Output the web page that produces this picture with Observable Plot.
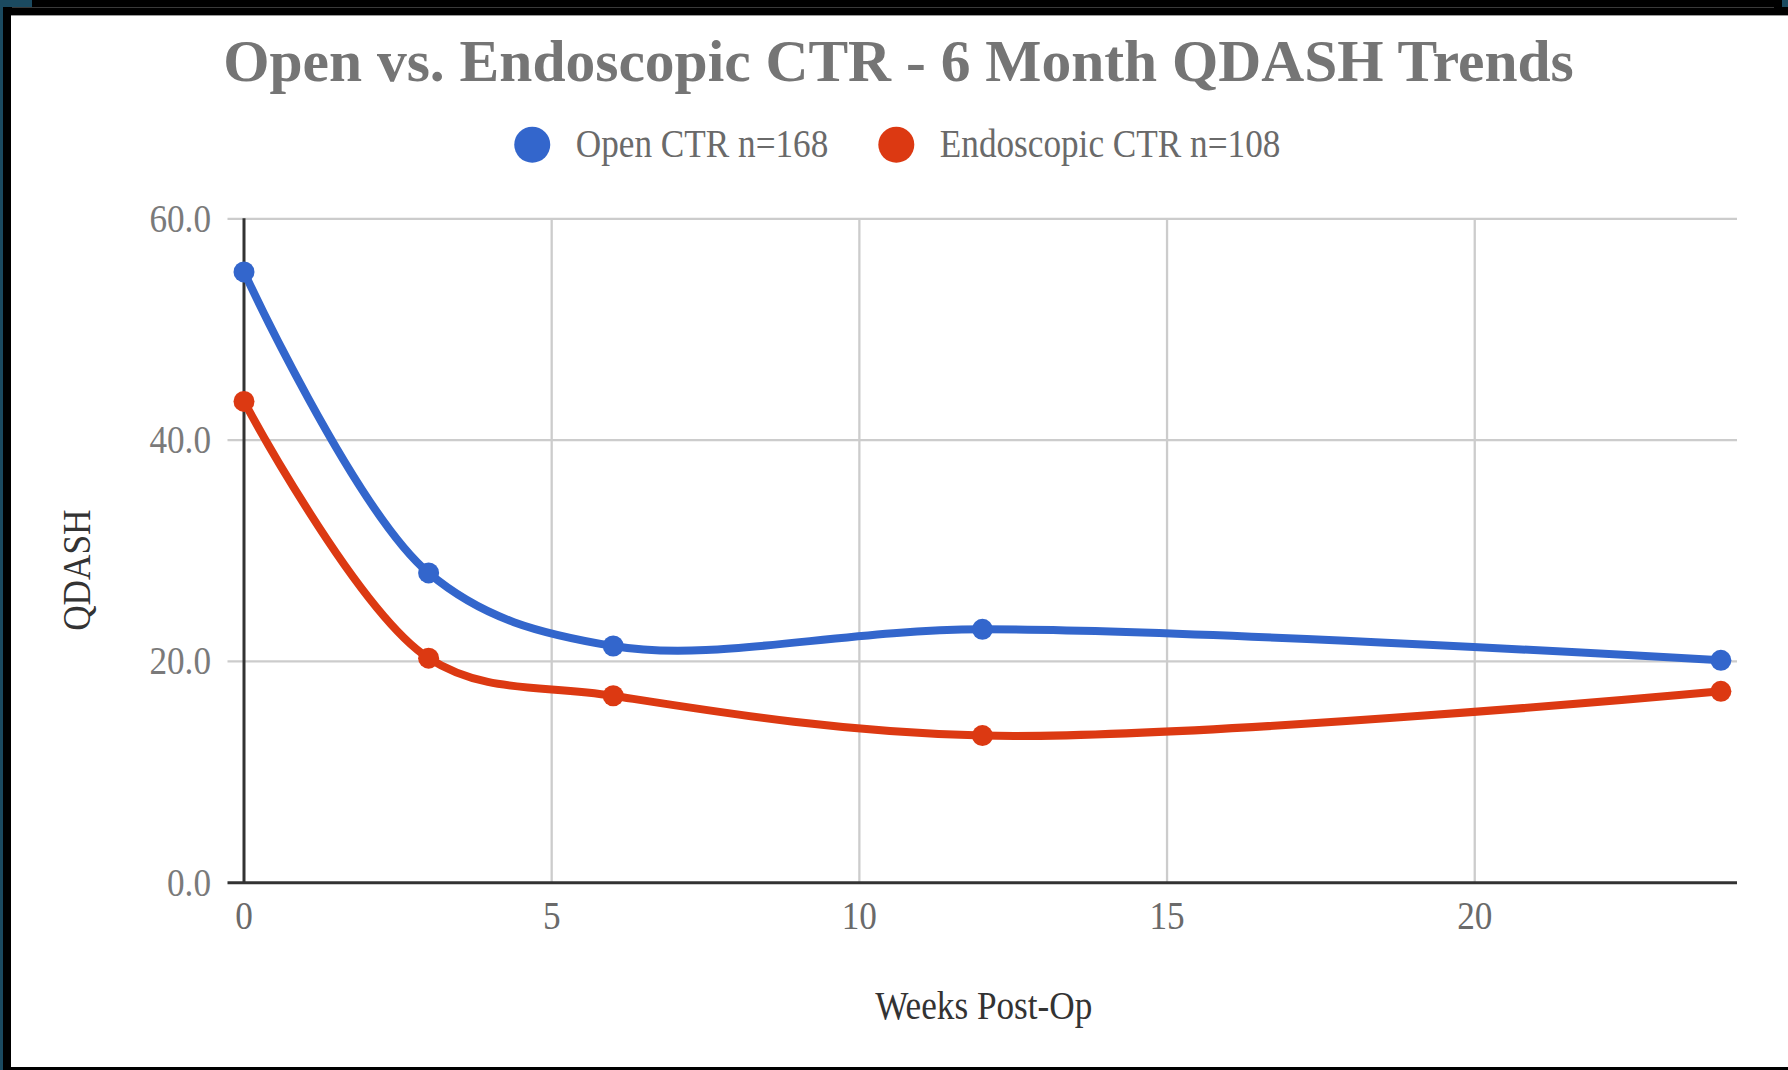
<!DOCTYPE html>
<html>
<head>
<meta charset="utf-8">
<script src="https://cdn.jsdelivr.net/npm/d3@7"></script>
<script src="https://cdn.jsdelivr.net/npm/@observablehq/plot@0.6"></script>
<style>
  html, body { margin: 0; padding: 0; background: #000; }
  #page { position: relative; width: 1788px; height: 1070px; overflow: hidden; background: #000;
          font-family: "Liberation Serif", "Times New Roman", serif; }
  .abs { position: absolute; }
  #tealLeft { left: 0; top: 0; width: 3px; height: 1070px; background: #1b4a60; }
  #tealTop { left: 0; top: 0; width: 32px; height: 7px; background: #1b4a60; }
  #tealTopRight { left: 1782px; top: 0; width: 6px; height: 7px; background: #1b4a60; }
  #topLine { left: 12px; top: 7px; width: 1762px; height: 1px; background: #3a3a3a; }
  #panel { left: 11px; top: 15px; width: 1777px; height: 1052px; background: #fff; border-top: 1px solid #9a9a9a; box-sizing: border-box; }
  #chart { left: 0; top: 0; }
  #overlay { left: 0; top: 0; }
</style>
</head>
<body>
<div id="page">
  <div id="tealLeft" class="abs"></div>
  <div id="tealTop" class="abs"></div>
  <div id="tealTopRight" class="abs"></div>
  <div id="topLine" class="abs"></div>
  <div id="panel" class="abs"></div>
  <div id="chart" class="abs"></div>
  <svg id="overlay" class="abs" width="1788" height="200"></svg>
</div>
<script>
// ---- data ----
const weeks = [0, 3, 6, 12, 24];
const openCTR = [55.2, 28.0, 21.4, 22.9, 20.1];
const endoCTR = [43.5, 20.3, 16.9, 13.3, 17.3];
const seriesNames = ["Open CTR n=168", "Endoscopic CTR n=108"];
const seriesColors = ["#3366cc", "#dc3912"];
const xTicks = [0, 5, 10, 15, 20];
const yTicks = [0, 20, 40, 60];
const yGrid = [20, 40, 60];
const xGrid = [5, 10, 15, 20];
const titleText = "Open vs. Endoscopic CTR - 6 Month QDASH Trends";
const xTitle = "Weeks Post-Op";
const yTitle = "QDASH";

const rows = [];
weeks.forEach((w, i) => {
  rows.push({ week: w, value: openCTR[i], series: seriesNames[0] });
  rows.push({ week: w, value: endoCTR[i], series: seriesNames[1] });
});

const FONT = "Liberation Serif";
const SQ = 0.88;

function squeeze(root, k) {
  root.querySelectorAll("text").forEach(t => {
    if (t.getAttribute("data-nosq")) return;
    const L = t.getComputedTextLength();
    if (L > 0) {
      t.setAttribute("textLength", (L * k).toFixed(2));
      t.setAttribute("lengthAdjust", "spacingAndGlyphs");
    }
  });
}

const chart = Plot.plot({
  width: 1788,
  height: 1070,
  marginLeft: 243.5,
  marginRight: 51,
  marginTop: 218.3,
  marginBottom: 187.7,
  style: { background: "transparent", fontFamily: FONT, overflow: "visible" },
  x: { domain: [0, 24.27] },
  y: { domain: [0, 60] },
  color: { domain: seriesNames, range: seriesColors },
  marks: [
    Plot.ruleX(xGrid, { stroke: "#cccccc", strokeWidth: 2.3 }),
    Plot.ruleY(yGrid, { stroke: "#cccccc", strokeWidth: 2.3, insetLeft: -16 }),
    Plot.ruleX([0], { stroke: "#333333", strokeWidth: 3 }),
    Plot.ruleY([0], { stroke: "#333333", strokeWidth: 3, insetLeft: -16 }),
    Plot.line(rows, { x: "week", y: "value", z: "series", stroke: "series", strokeWidth: 8, curve: "catmull-rom" }),
    Plot.dot(rows, { x: "week", y: "value", fill: "series", r: 10.5 }),
    Plot.axisX(xTicks, { tickSize: 0, tickPadding: 18, fontSize: 40, color: "#6a6a6a", label: null, tickFormat: d3.format("d") }),
    Plot.axisY(yTicks, { tickSize: 0, tickPadding: 33, fontSize: 40, color: "#7a7a7a", label: null, tickFormat: d3.format(".1f") }),
    Plot.text([xTitle], { frameAnchor: "bottom", lineAnchor: "top", dy: 108, dx: -7, fontSize: 40, fill: "#333333" }),
    Plot.text([yTitle], { frameAnchor: "left", rotate: -90, dx: -166.8, dy: 80, fontSize: 40, fill: "#333333" })
  ]
});
document.getElementById("chart").appendChild(chart);
squeeze(chart, SQ);

// ---- title & legend ----
const ov = d3.select("#overlay");
ov.append("text")
  .attr("data-nosq", "1")
  .attr("x", 898.5).attr("y", 81)
  .attr("text-anchor", "middle")
  .attr("font-family", FONT).attr("font-weight", "bold").attr("font-size", 59.5)
  .attr("fill", "#757575")
  .text(titleText);

const legendY = 144.7, dotR = 18, textGap = 25.5, itemGap = 50;
const items = seriesNames.map((name, i) => {
  const t = ov.append("text")
    .attr("y", 157)
    .attr("font-family", FONT).attr("font-size", 40)
    .attr("fill", "#6a6a6a")
    .text(name);
  const L = t.node().getComputedTextLength() * SQ;
  t.attr("textLength", L.toFixed(2)).attr("lengthAdjust", "spacingAndGlyphs");
  return { t, L, color: seriesColors[i] };
});
const totalW = items.reduce((s, it) => s + 2 * dotR + textGap + it.L, 0) + itemGap * (items.length - 1);
let cursor = 897.3 - totalW / 2;
items.forEach(it => {
  ov.append("circle").attr("cx", cursor + dotR).attr("cy", legendY).attr("r", dotR).attr("fill", it.color);
  it.t.attr("x", cursor + 2 * dotR + textGap);
  cursor += 2 * dotR + textGap + it.L + itemGap;
});
</script>
</body>
</html>
